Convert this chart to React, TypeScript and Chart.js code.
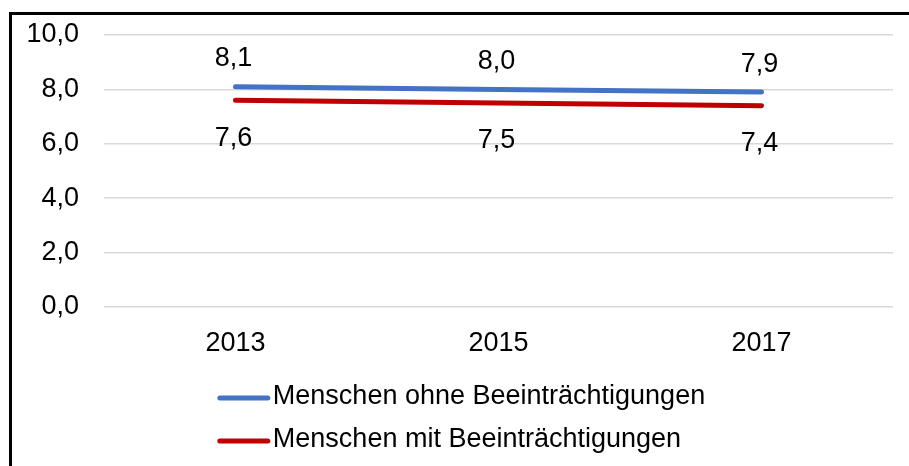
import { useEffect, useRef } from "react";
import { Chart, registerables } from "chart.js";

Chart.register(...registerables);

const categories = ["2013", "2015", "2017"];
const ohneValues = [8.1, 8.0, 7.9];
const mitValues = [7.6, 7.5, 7.4];
const seriesNames = ["Menschen ohne Beeinträchtigungen", "Menschen mit Beeinträchtigungen"];
const seriesColors = ["#4472C4", "#C00000"];
const yMin = 0;
const yMax = 10;
const yStep = 2;

const FONT_FAMILY = "'Liberation Sans', Arial, sans-serif";
const FONT_SIZE = 27;

const fmt = (v: number) => v.toFixed(1).replace(".", ",");

const dataLabelPlugin = {
  id: "dataLabels",
  afterDatasetsDraw(chart: any) {
    const ctx = chart.ctx;
    const offsets = [-28, 38];
    ctx.save();
    ctx.font = `${FONT_SIZE}px ${FONT_FAMILY}`;
    ctx.fillStyle = "#000";
    ctx.textAlign = "center";
    ctx.textBaseline = "middle";
    chart.data.datasets.forEach((ds: any, i: number) => {
      const meta = chart.getDatasetMeta(i);
      meta.data.forEach((pt: any, j: number) => {
        ctx.fillText(fmt(ds.data[j]), pt.x - 2, pt.y + offsets[i]);
      });
    });
    ctx.restore();
  },
};

const legendPlugin = {
  id: "customLegend",
  afterDraw(chart: any) {
    const ctx = chart.ctx;
    ctx.save();
    ctx.font = `${FONT_SIZE}px ${FONT_FAMILY}`;
    const lineLen = 52;
    const gap = 3;
    const widths = chart.data.datasets.map((ds: any) => lineLen + gap + ctx.measureText(ds.label).width);
    const blockW = Math.max(...widths);
    const x0 = (chart.width - blockW) / 2 + 1;
    const rowY = [382, 425];
    chart.data.datasets.forEach((ds: any, i: number) => {
      const y = rowY[i];
      ctx.strokeStyle = ds.borderColor;
      ctx.lineWidth = 5;
      ctx.lineCap = "round";
      ctx.beginPath();
      ctx.moveTo(x0 + 2, y + 1);
      ctx.lineTo(x0 + lineLen - 2, y + 1);
      ctx.stroke();
      ctx.fillStyle = "#000";
      ctx.textAlign = "left";
      ctx.textBaseline = "middle";
      ctx.fillText(ds.label, x0 + lineLen + gap, y);
    });
    ctx.restore();
  },
};

export default function App() {
  const canvasRef = useRef<HTMLCanvasElement | null>(null);

  useEffect(() => {
    if (!canvasRef.current) return;
    const chart = new Chart(canvasRef.current, {
      type: "line",
      data: {
        labels: categories,
        datasets: [
          {
            label: seriesNames[0],
            data: ohneValues,
            borderColor: seriesColors[0],
            backgroundColor: seriesColors[0],
            borderWidth: 5,
            borderCapStyle: "round",
            pointRadius: 0,
            tension: 0,
          },
          {
            label: seriesNames[1],
            data: mitValues,
            borderColor: seriesColors[1],
            backgroundColor: seriesColors[1],
            borderWidth: 5,
            borderCapStyle: "round",
            pointRadius: 0,
            tension: 0,
          },
        ],
      },
      options: {
        animation: false,
        responsive: true,
        maintainAspectRatio: false,
        layout: { padding: { left: 0, right: 16, top: 20, bottom: 0 } },
        plugins: {
          legend: { display: false },
          tooltip: { enabled: false },
        },
        scales: {
          x: {
            offset: true,
            grid: { display: false, drawTicks: false },
            border: { display: false },
            ticks: {
              color: "#000",
              font: { family: FONT_FAMILY, size: FONT_SIZE },
              padding: 20,
              maxRotation: 0,
            },
            afterFit(scale: any) {
              scale.height = 159;
              scale.paddingLeft = 0;
              scale.paddingRight = 0;
            },
          },
          y: {
            min: yMin,
            max: yMax,
            grid: { color: "#d9d9d9", lineWidth: 1.5, drawTicks: false },
            border: { display: false },
            ticks: {
              stepSize: yStep,
              color: "#000",
              font: { family: FONT_FAMILY, size: FONT_SIZE },
              padding: 25,
              callback: (v: any) => fmt(Number(v)),
            },
            afterFit(scale: any) {
              scale.width = 92;
              scale.paddingTop = 0;
              scale.paddingBottom = 0;
            },
          },
        },
      },
      plugins: [dataLabelPlugin, legendPlugin],
    });
    return () => chart.destroy();
  }, []);

  return (
    <div
      style={{
        position: "fixed",
        left: 9,
        top: 12,
        right: 0,
        bottom: 0,
        borderTop: "3px solid #000",
        borderLeft: "3px solid #000",
        background: "#fff",
      }}
    >
      <div style={{ position: "relative", width: "100%", height: "100%" }}>
        <canvas ref={canvasRef} />
      </div>
    </div>
  );
}
